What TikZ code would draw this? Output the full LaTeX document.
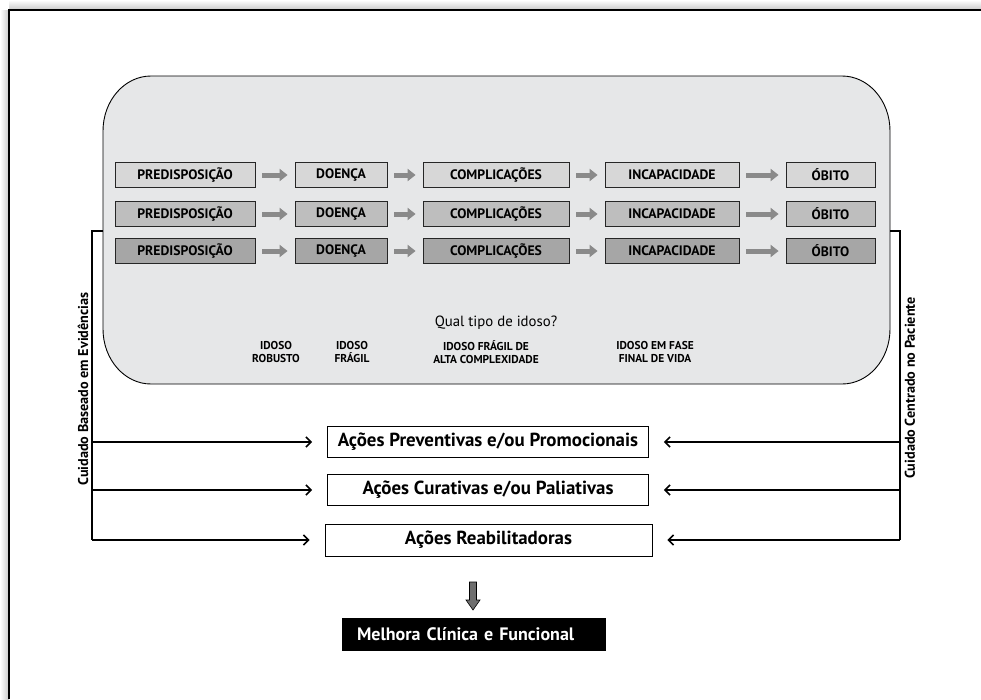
\documentclass[tikz,border=0pt]{standalone}
\usepackage{fontspec}
\setmainfont{PT Sans}
\usetikzlibrary{arrows.meta}
\definecolor{panelgray}{HTML}{E6E7E8}
\definecolor{rowone}{HTML}{D7D7D7}
\definecolor{rowtwo}{HTML}{BEBEBE}
\definecolor{rowthree}{HTML}{A6A6A6}
\definecolor{flowgray}{HTML}{8A8A8A}
\definecolor{downgray}{HTML}{6E6E6E}
\definecolor{edgeshade}{HTML}{C8C8C8}
\begin{document}
\begin{tikzpicture}[x=1pt,y=-1pt,
  stage/.style={draw=black!85, line width=0.8pt, minimum height=25pt, inner sep=0pt,
    font=\bfseries\fontsize{13.7}{15}\selectfont},
  flow/.style={draw=flowgray, line width=5pt,
    -{Triangle[length=8pt,width=12pt]}, shorten <=7pt, shorten >=7pt},
  kind/.style={font=\bfseries\fontsize{11.4}{13}\selectfont, align=center, inner sep=0pt},
  action/.style={draw=black, line width=0.9pt, minimum height=31pt, inner sep=0pt,
    font=\bfseries\fontsize{18.9}{21}\selectfont},
  bracket/.style={draw=black, line width=1.1pt},
  feed/.style={draw=black, line width=1.1pt,
    -{Straight Barb[length=5pt,width=10pt,line width=1.6pt]}, shorten >=15pt},
  side/.style={font=\bfseries\fontsize{14.2}{16}\selectfont, rotate=90, inner sep=0pt}
]
\useasboundingbox (0,0) rectangle (981,699);

% page edge with its soft shadow
\shade[left color=white, right color=edgeshade] (0,10) rectangle (9,699);
\shade[top color=white, bottom color=edgeshade] (9,0) rectangle (981,10);
\fill[white] (9,10) rectangle (981,699);
\draw[line width=1.4pt] (9,699) -- (9,10) -- (981,10);

% rounded panel
\draw[fill=panelgray, line width=0.9pt]
  (151,76) -- (842,76)
  arc[start angle=-90, end angle=0, x radius=48, y radius=55]
  -- (890,329)
  arc[start angle=0, end angle=90, x radius=48, y radius=55]
  -- (151,384)
  arc[start angle=90, end angle=180, x radius=48, y radius=55]
  -- (103,131)
  arc[start angle=180, end angle=270, x radius=48, y radius=55]
  -- cycle;

% three rows of stages
\foreach \r/\y/\c in {1/175/rowone, 2/214/rowtwo, 3/251/rowthree}{
  \node[stage, fill=\c, minimum width=140pt] (p\r) at (185,\y) {PREDISPOSIÇÃO};
  \node[stage, fill=\c, minimum width=92pt]  (d\r) at (341,\y) {DOENÇA};
  \node[stage, fill=\c, minimum width=146pt] (c\r) at (496,\y) {COMPLICAÇÕES};
  \node[stage, fill=\c, minimum width=134pt] (i\r) at (672,\y) {INCAPACIDADE};
  \node[stage, fill=\c, minimum width=89pt]  (o\r) at (830.5,\y) {ÓBITO};
  \draw[flow] (p\r) -- (d\r);
  \draw[flow] (d\r) -- (c\r);
  \draw[flow] (c\r) -- (i\r);
  \draw[flow] (i\r) -- (o\r);
}

\node[font=\fontsize{14.8}{16}\selectfont, inner sep=0pt] (q) at (496,323) {Qual tipo de idoso?};
\node[kind] (k1) at (276,352) {IDOSO\\ROBUSTO};
\node[kind] (k2) at (352,352) {IDOSO\\FRÁGIL};
\node[kind] (k3) at (486,352) {IDOSO FRÁGIL DE\\ALTA COMPLEXIDADE};
\node[kind] (k4) at (655,352) {IDOSO EM FASE\\FINAL DE VIDA};

% actions
\node[action, minimum width=321pt] (a1) at (488,442) {Ações Preventivas e/ou Promocionais};
\node[action, minimum width=321pt] (a2) at (488,490) {Ações Curativas e/ou Paliativas};
\node[action, minimum width=327pt, minimum height=32pt] (a3) at (488.5,540) {Ações Reabilitadoras};

% left bracket
\coordinate (lp) at (103,231);
\coordinate (lt) at (92,231);
\coordinate (l1) at (92,442);
\coordinate (l2) at (92,490);
\coordinate (l3) at (92,540);
\draw[bracket] (lp) -- (lt) -- (l3);
\draw[feed] (l1) -- (a1);
\draw[feed] (l2) -- (a2);
\draw[feed] (l3) -- (a3);
\node[side] (ls) at (83,389) {Cuidado Baseado em Evidências};

% right bracket
\coordinate (rp) at (890,231);
\coordinate (rt) at (900,231);
\coordinate (r1) at (900,442);
\coordinate (r2) at (900,490);
\coordinate (r3) at (900,540);
\draw[bracket] (rp) -- (rt) -- (r3);
\draw[feed] (r1) -- (a1);
\draw[feed] (r2) -- (a2);
\draw[feed] (r3) -- (a3);
\node[side] (rs) at (910,388) {Cuidado Centrado no Paciente};

% outcome
\node[fill=black, text=white, minimum height=33pt, inner ysep=0pt, inner xsep=15pt,
  text width=234pt, align=left, font=\bfseries\fontsize{18}{20}\selectfont]
  (m) at (474,634.5) {Melhora Clínica e Funcional};
\coordinate (dt) at (473,582);
\draw[fill=downgray, line width=0.6pt]
  ([xshift=-3.5pt]dt) -- ([xshift=3.5pt]dt) -- ([xshift=3.5pt,yshift=-18pt]dt)
  -- ([xshift=7pt,yshift=-18pt]dt) -- ([yshift=-28pt]dt) -- ([xshift=-7pt,yshift=-18pt]dt)
  -- ([xshift=-3.5pt,yshift=-18pt]dt) -- cycle;
\end{tikzpicture}
\end{document}
